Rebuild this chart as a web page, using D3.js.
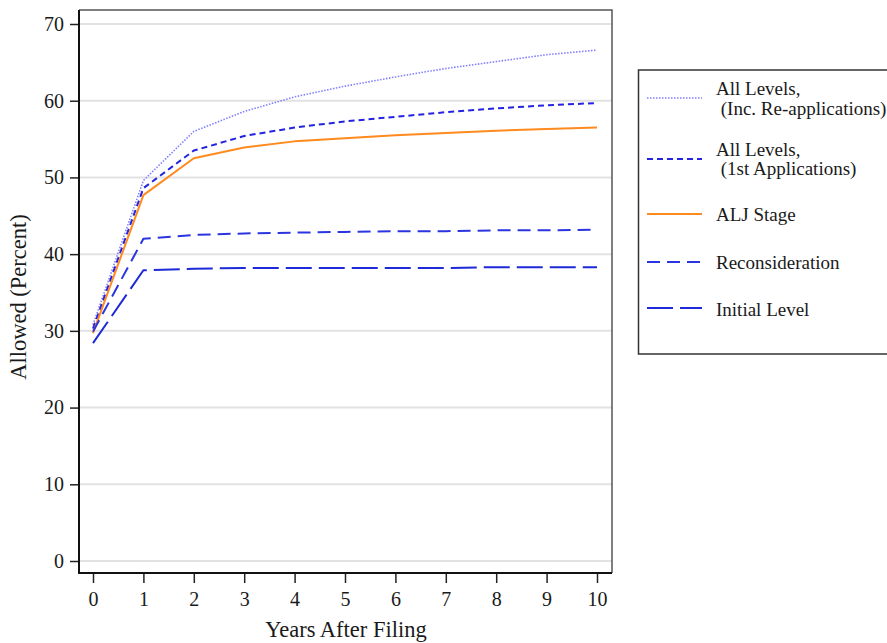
<!DOCTYPE html>
<html><head><meta charset="utf-8">
<script src="https://cdn.jsdelivr.net/npm/d3@7"></script>
<style>body{margin:0;background:#fff}svg{display:block}text{font-family:"Liberation Serif","Times New Roman",serif;fill:#1a1a1a}</style>
</head><body><svg id="c" width="887" height="643"></svg>
<script>
const years = [0,1,2,3,4,5,6,7,8,9,10];
const yTicks = [0,10,20,30,40,50,60,70];
const allInc = [30.8,49.6,56.0,58.6,60.5,61.9,63.1,64.2,65.1,66.0,66.6];
const all1st = [30.3,48.6,53.5,55.4,56.5,57.3,57.9,58.5,59.0,59.4,59.7];
const alj = [29.7,47.7,52.5,53.9,54.7,55.1,55.5,55.8,56.1,56.3,56.5];
const recon = [29.9,42.0,42.5,42.7,42.8,42.9,43.0,43.0,43.1,43.1,43.2];
const initial = [28.4,37.9,38.1,38.2,38.2,38.2,38.2,38.2,38.3,38.3,38.3];
const seriesNames = [["All Levels,"," (Inc. Re-applications)"],["All Levels,"," (1st Applications)"],["ALJ Stage"],["Reconsideration"],["Initial Level"]];

const series = [
  {name:seriesNames[0], values:allInc, color:"#7f7fff", width:1.6, dash:"1.5,1.5"},
  {name:seriesNames[1], values:all1st, color:"#2323e0", width:2, dash:"6,4"},
  {name:seriesNames[2], values:alj, color:"#ff8a1e", width:2, dash:null},
  {name:seriesNames[3], values:recon, color:"#2a35e0", width:2, dash:"13,7"},
  {name:seriesNames[4], values:initial, color:"#1e2ad8", width:2, dash:"26,7"}
];

const svg = d3.select("#c");
const L=79, R=612, T=10, B=573;
const x = d3.scaleLinear().domain([0,10]).range([93,597]);
const y = d3.scaleLinear().domain([0,70]).range([561,24]);

// gridlines
svg.append("g").selectAll("line").data(yTicks).join("line")
  .attr("x1",L).attr("x2",R).attr("y1",d=>y(d)).attr("y2",d=>y(d))
  .attr("stroke","#e2e2e2").attr("stroke-width",2);

// frame top/right
svg.append("path").attr("d",`M${L},${T}H${R}V${B}`).attr("fill","none").attr("stroke","#555").attr("stroke-width",1.5);

// axes
const ya = svg.append("g").attr("transform",`translate(${L},0)`)
  .call(d3.axisLeft(y).tickValues(yTicks).tickSize(9).tickPadding(6).tickSizeOuter(0));
const xa = svg.append("g").attr("transform",`translate(0,${B})`)
  .call(d3.axisBottom(x).tickValues(years).tickSize(10).tickPadding(9).tickSizeOuter(0));
[ya,xa].forEach(a=>{
  a.select(".domain").remove();
  a.selectAll("line").attr("stroke","#222").attr("stroke-width",1.5);
  a.selectAll("text").attr("font-size",20).attr("fill","#1a1a1a").style("font-family",'"Liberation Serif",serif');
});
svg.append("line").attr("x1",L).attr("x2",L).attr("y1",T).attr("y2",B+1).attr("stroke","#111").attr("stroke-width",2);
svg.append("line").attr("x1",L-1).attr("x2",R).attr("y1",B).attr("y2",B).attr("stroke","#111").attr("stroke-width",2);

// lines
const line = d3.line().x((d,i)=>x(years[i])).y(d=>y(d));
series.forEach(s=>{
  svg.append("path").attr("d",line(s.values)).attr("fill","none")
    .attr("stroke",s.color).attr("stroke-width",s.width)
    .attr("stroke-dasharray",s.dash).attr("stroke-linejoin","round");
});

// axis titles
svg.append("text").attr("x",346).attr("y",637).attr("text-anchor","middle").attr("font-size",22.5).text("Years After Filing");
svg.append("text").attr("transform","translate(26,297) rotate(-90)").attr("text-anchor","middle").attr("font-size",22.5).text("Allowed (Percent)");

// legend
svg.append("rect").attr("x",638.5).attr("y",70).attr("width",260).attr("height",284)
  .attr("fill","#fff").attr("stroke","#333").attr("stroke-width",1.5);
const lineY = [98,159,214,262,308];
const textY = [[95,115],[156,175],[221],[269],[316]];
series.forEach((s,i)=>{
  svg.append("line").attr("x1",647).attr("x2",702).attr("y1",lineY[i]).attr("y2",lineY[i])
    .attr("stroke",s.color).attr("stroke-width",s.width).attr("stroke-dasharray",s.dash);
  s.name.forEach((t,j)=>{
    svg.append("text").attr("x",716).attr("y",textY[i][j]).attr("font-size",19)
      .attr("xml:space","preserve").style("white-space","pre").text(t);
  });
});
</script></body></html>
